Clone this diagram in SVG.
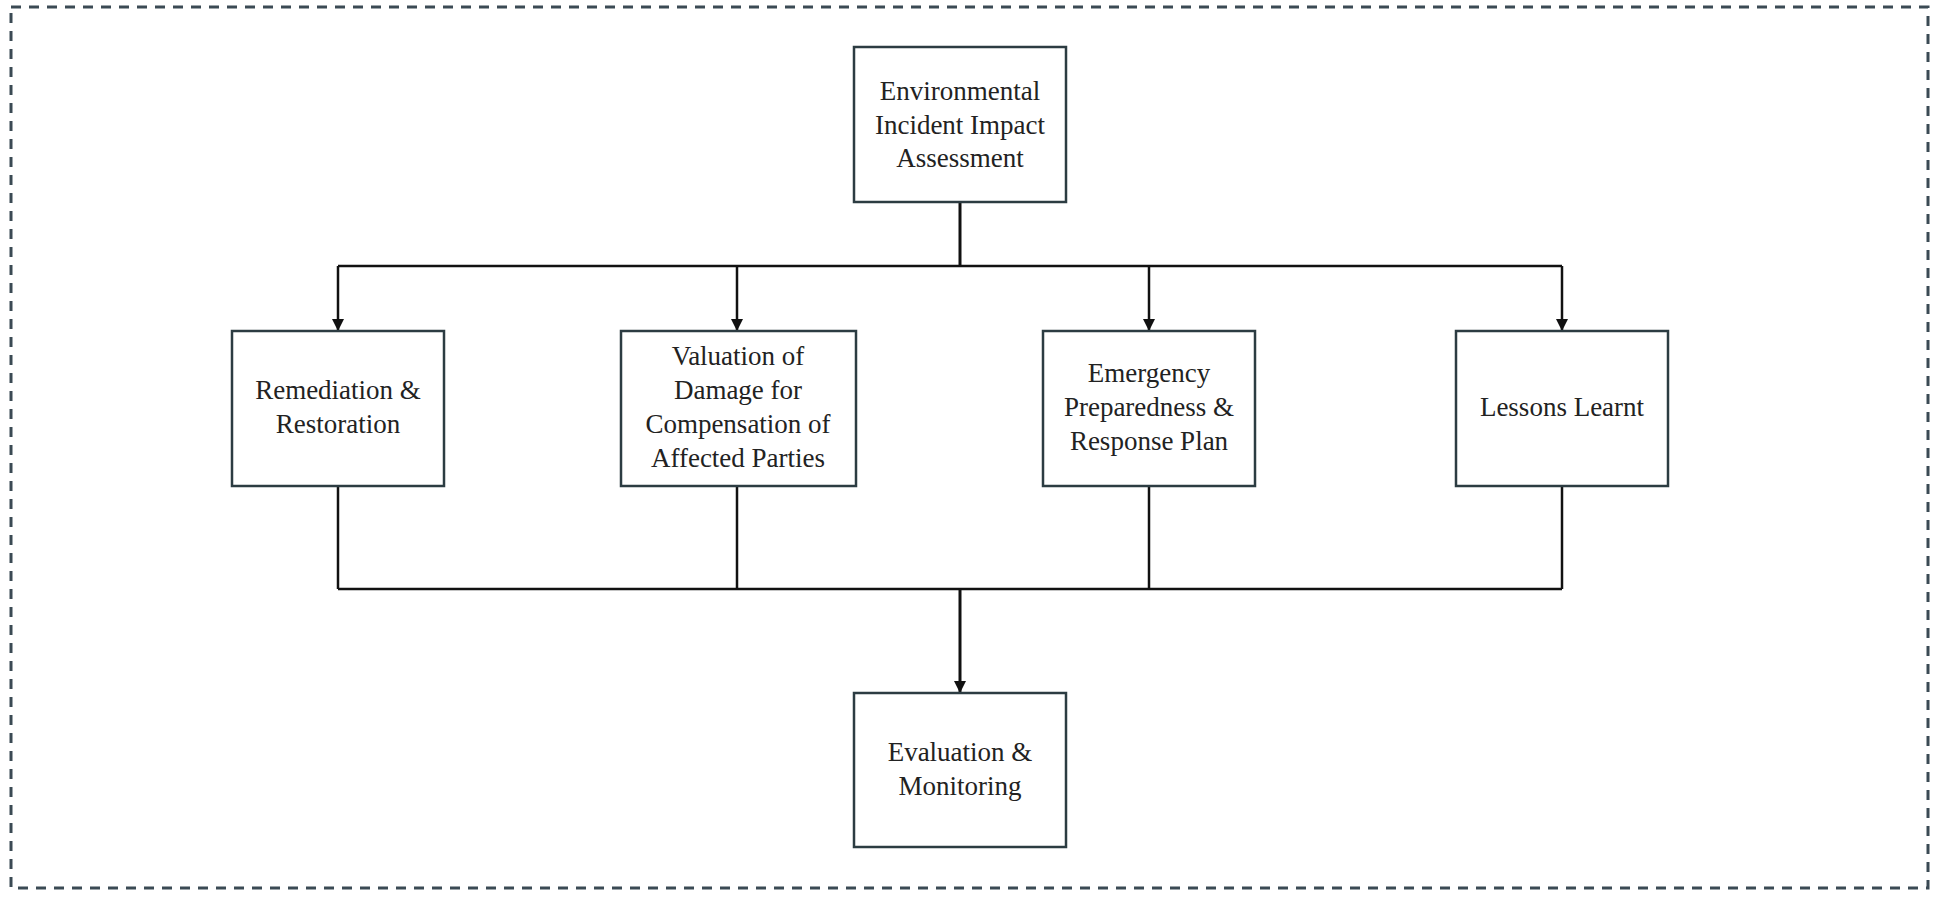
<svg xmlns="http://www.w3.org/2000/svg" width="1934" height="898" viewBox="0 0 1934 898">
  <style>
    .box { fill: #ffffff; stroke: #2c3c42; stroke-width: 2.5; }
    .lbl { font-family: "Liberation Serif", "Times New Roman", serif; font-size: 27px; fill: #222222; text-anchor: middle; }
    .conn { fill: none; stroke: #111111; stroke-width: 2.5; }
    .trunk { fill: none; stroke: #111111; stroke-width: 3; }
    .frame { fill: none; stroke: #3b4a54; stroke-width: 3; stroke-dasharray: 10 8; }
  </style>
  <defs>
    <marker id="arrow" viewBox="0 0 10 10" refX="10" refY="5" markerWidth="12" markerHeight="12" markerUnits="userSpaceOnUse" orient="auto">
      <path d="M0,0 L10,5 L0,10 z" fill="#111111"/>
    </marker>
  </defs>
  <rect x="0" y="0" width="1934" height="898" fill="#ffffff"/>
  <rect class="frame" x="11" y="7" width="1917" height="881"/>

  <g id="connectors">
    <path class="trunk" d="M960,202 L960,266"/>
    <path class="conn" d="M338,266 L1562,266"/>
    <path class="conn" d="M338,266 L338,331" marker-end="url(#arrow)"/>
    <path class="conn" d="M737,266 L737,331" marker-end="url(#arrow)"/>
    <path class="conn" d="M1149,266 L1149,331" marker-end="url(#arrow)"/>
    <path class="conn" d="M1562,266 L1562,331" marker-end="url(#arrow)"/>
    <path class="conn" d="M338,486 L338,589"/>
    <path class="conn" d="M737,486 L737,589"/>
    <path class="conn" d="M1149,486 L1149,589"/>
    <path class="conn" d="M1562,486 L1562,589"/>
    <path class="conn" d="M338,589 L1562,589"/>
    <path class="trunk" d="M960,589 L960,693" marker-end="url(#arrow)"/>
  </g>

  <g id="node-assessment">
    <rect class="box" x="854" y="47" width="212" height="155"/>
    <text class="lbl" x="960" y="100">Environmental</text>
    <text class="lbl" x="960" y="133.5">Incident Impact</text>
    <text class="lbl" x="960" y="167">Assessment</text>
  </g>

  <g id="node-remediation">
    <rect class="box" x="232" y="331" width="212" height="155"/>
    <text class="lbl" x="338" y="399">Remediation &amp;</text>
    <text class="lbl" x="338" y="433">Restoration</text>
  </g>

  <g id="node-valuation">
    <rect class="box" x="621" y="331" width="235" height="155"/>
    <text class="lbl" x="738" y="365">Valuation of</text>
    <text class="lbl" x="738" y="399">Damage for</text>
    <text class="lbl" x="738" y="433">Compensation of</text>
    <text class="lbl" x="738" y="467">Affected Parties</text>
  </g>

  <g id="node-emergency">
    <rect class="box" x="1043" y="331" width="212" height="155"/>
    <text class="lbl" x="1149" y="382">Emergency</text>
    <text class="lbl" x="1149" y="416">Preparedness &amp;</text>
    <text class="lbl" x="1149" y="450">Response Plan</text>
  </g>

  <g id="node-lessons">
    <rect class="box" x="1456" y="331" width="212" height="155"/>
    <text class="lbl" x="1562" y="416">Lessons Learnt</text>
  </g>

  <g id="node-evaluation">
    <rect class="box" x="854" y="693" width="212" height="154"/>
    <text class="lbl" x="960" y="761">Evaluation &amp;</text>
    <text class="lbl" x="960" y="795">Monitoring</text>
  </g>
</svg>
